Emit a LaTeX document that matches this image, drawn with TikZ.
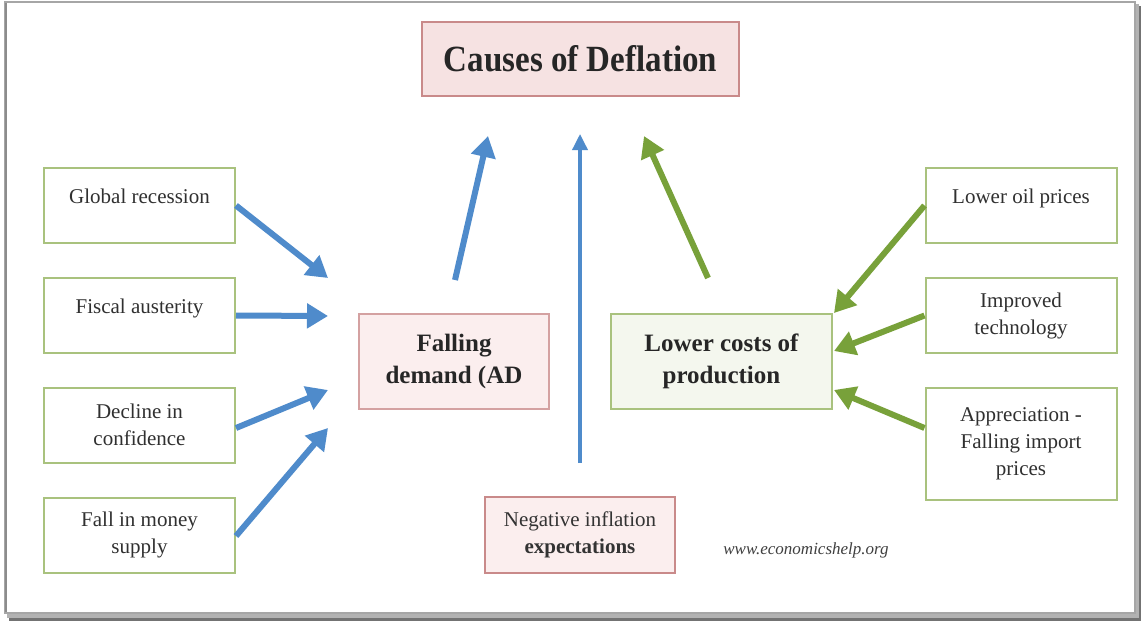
\documentclass[tikz,border=0pt]{standalone}
\usepackage{fontspec}
\setmainfont{Liberation Serif}
\usetikzlibrary{arrows.meta}
\definecolor{pinkfill}{HTML}{F6E2E2}
\definecolor{pinklight}{HTML}{FBEEEE}
\definecolor{pinkline}{HTML}{C98A8A}
\definecolor{greenline}{HTML}{A9C27E}
\definecolor{greenfill}{HTML}{F4F7EE}
\definecolor{bluearrow}{HTML}{4F8BCB}
\definecolor{greenarrow}{HTML}{78A13A}
\definecolor{labeltext}{HTML}{303030}
\begin{document}
\begin{tikzpicture}[x=1pt,y=-1pt,
  smallbox/.style={draw=greenline,line width=2pt,fill=white,minimum width=191pt,minimum height=75pt,
    inner sep=0pt,align=center,text=labeltext,font=\fontsize{21}{27}\selectfont},
  causebox/.style={line width=2pt,minimum width=190pt,minimum height=95pt,inner sep=0pt,align=center,
    text=black!85,font=\fontsize{25}{32}\selectfont\bfseries},
  bluearr/.style={draw=bluearrow,line width=6pt,-{Triangle[width=24pt,length=21pt]}},
  greenarr/.style={draw=greenarrow,line width=6pt,-{Triangle[width=24pt,length=21pt]}},
  thinarr/.style={draw=bluearrow,line width=3.5pt,-{Triangle[width=15pt,length=16pt]}}]
\useasboundingbox (0,0) rectangle (1142,623);
% framed panel with a drop shadow
\fill[black!55] (9,6) rectangle (1141,621);
\fill[black!30] (7,4) rectangle (1139,618);
\filldraw[fill=white,draw=black!35,line width=1.2pt] (5,2) rectangle (1135,613);
\draw[black!45,line width=2pt] (6,3) -- (6,612);

% title
\node[draw=pinkline,fill=pinkfill,line width=2pt,minimum width=317pt,minimum height=74pt,inner sep=0pt,
  font=\fontsize{33}{36}\selectfont\bfseries,text=black!85] (title) at (580.5,59)
  {\scalebox{1}[1.12]{Causes of Deflation}};

% left column
\node[smallbox] (gr) at (139.5,205.5) {Global recession\\[-8pt]~};
\node[smallbox] (fa) at (139.5,315.5) {Fiscal austerity\\[-8pt]~};
\node[smallbox] (dc) at (139.5,425) {Decline in\\confidence};
\node[smallbox] (fm) at (139.5,535) {Fall in money\\supply};

% middle causes
\node[causebox,draw=pinkline!80,fill=pinklight] (fd) at (454,361.5) {Falling\\demand (AD};
\node[causebox,draw=greenline,fill=greenfill,minimum width=221pt] (lc) at (721.5,361.5) {Lower costs of\\production};
\node[draw=pinkline,fill=pinklight,line width=2pt,minimum width=190pt,minimum height=76pt,inner sep=0pt,
  align=center,text=black!80,font=\fontsize{21}{27}\selectfont] (ne) at (580,535)
  {Negative inflation\\\textbf{expectations}};

% right column
\node[smallbox] (lo) at (1021,205.5) {Lower oil prices\\[-8pt]~};
\node[smallbox] (it) at (1021,315.5) {Improved\\technology};
\node[smallbox,minimum height=112pt] (ap) at (1021,444) {Appreciation -\\Falling import\\prices};

\node[font=\fontsize{17}{20}\selectfont\itshape,text=black!75] (web) at (806,550) {www.economicshelp.org};

% arrow tips
\coordinate (tgr) at (328,278);
\coordinate (tfa) at (328,316);
\coordinate (tdc) at (328,390);
\coordinate (tfm) at (328,428);
\coordinate (sfd) at (455,280);
\coordinate (tfd) at (488,136);
\coordinate (sne) at (580,463);
\coordinate (tne) at (580,134);
\coordinate (slc) at (708,278);
\coordinate (tlc) at (644,136);
\coordinate (tlo) at (834,313);
\coordinate (tit) at (834,351);
\coordinate (tap) at (834,390);

% connectors
\draw[bluearr] (gr.east) -- (tgr);
\draw[bluearr] (fa.east) -- (tfa);
\draw[bluearr] ([yshift=-3pt]dc.east) -- (tdc);
\draw[bluearr] ([yshift=-1pt]fm.east) -- (tfm);
\draw[bluearr] (sfd) -- (tfd);
\draw[thinarr] (sne) -- (tne);
\draw[greenarr] (slc) -- (tlc);
\draw[greenarr] (lo.west) -- (tlo);
\draw[greenarr] (it.west) -- (tit);
\draw[greenarr] ([yshift=16pt]ap.west) -- (tap);
\end{tikzpicture}
\end{document}
